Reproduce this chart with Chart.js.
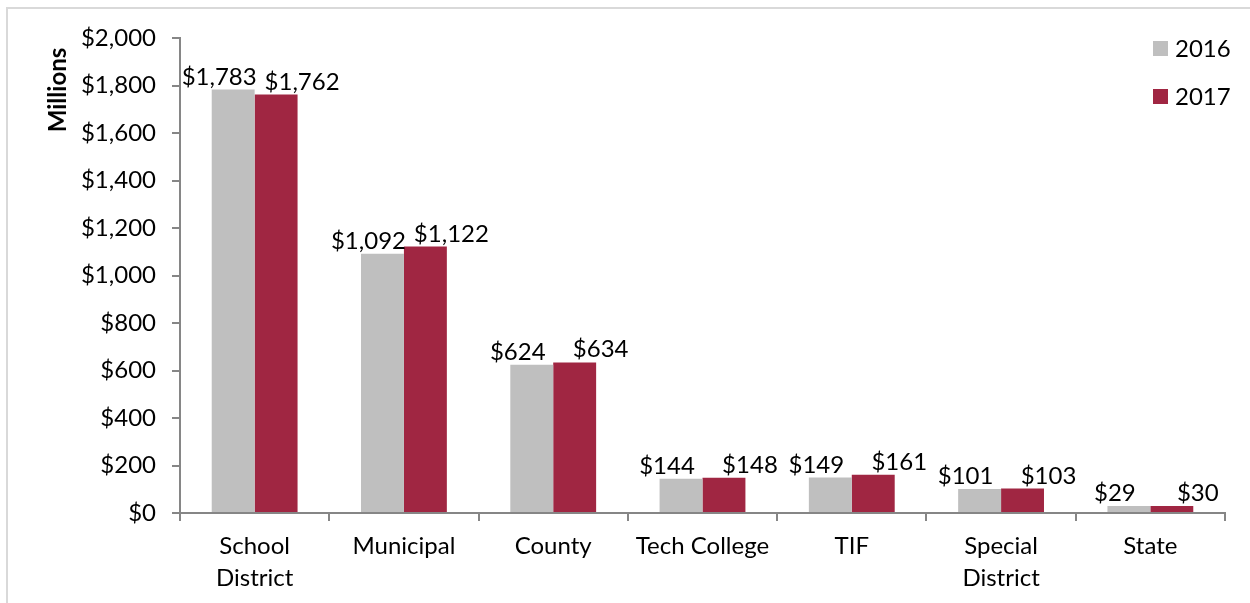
<!DOCTYPE html>
<html lang="en">
<head>
  <meta charset="UTF-8" />
  <title>Tax levy by type</title>
  <script src="https://cdn.jsdelivr.net/npm/chart.js"></script>
  <style>
    html, body { margin: 0; padding: 0; background: #fff; }
    #wrap { width: 1250px; height: 603px; position: relative; }
  </style>
</head>
<body>
  <div id="wrap"><canvas id="grafico"></canvas></div>

  <script>
    const categorias = [['School', 'District'], 'Municipal', 'County', 'Tech College', 'TIF', ['Special', 'District'], 'State'];
    const anios = ['2016', '2017'];
    const valores2016 = [1783, 1092, 624, 144, 149, 101, 29];
    const valores2017 = [1762, 1122, 634, 148, 161, 103, 30];
    const colores = ['#BFBFBF', '#A02642'];
    const tituloEje = 'Millions';

    const fuente = 'Lato, "Open Sans", sans-serif';
    const dinero = v => '$' + Number(v).toLocaleString('en-US');

    // borde gris del cuadro, titulo del eje, etiquetas de datos y leyenda a mano
    const extras = {
      id: 'extras',
      beforeDraw(chart) {
        const ctx = chart.ctx;
        ctx.save();
        ctx.strokeStyle = '#D9D9D9';
        ctx.lineWidth = 2;
        ctx.strokeRect(7, 8, 1400, 800);
        ctx.translate(58, 90);
        ctx.rotate(-Math.PI / 2);
        ctx.font = 'bold 24px ' + fuente;
        ctx.fillStyle = '#000';
        ctx.textAlign = 'center';
        ctx.textBaseline = 'middle';
        ctx.fillText(tituloEje, 0, 0);
        ctx.restore();
      },
      afterDatasetsDraw(chart) {
        const ctx = chart.ctx;
        ctx.save();
        ctx.font = '24px ' + fuente;
        ctx.fillStyle = '#000';
        ctx.textAlign = 'center';
        ctx.textBaseline = 'alphabetic';
        const desplaz = [-14, 26];
        chart.data.datasets.forEach((ds, i) => {
          chart.getDatasetMeta(i).data.forEach((bar, j) => {
            ctx.fillText(dinero(ds.data[j]), bar.x + desplaz[i], bar.y - 5);
          });
        });
        // leyenda
        ctx.textAlign = 'left';
        ctx.textBaseline = 'middle';
        chart.data.datasets.forEach((ds, i) => {
          const y = 48 + i * 48;
          ctx.fillStyle = ds.backgroundColor;
          ctx.fillRect(1153, y - 7, 15, 15);
          ctx.fillStyle = '#000';
          ctx.fillText(ds.label, 1175, y + 1);
        });
        ctx.restore();
      }
    };

    new Chart(document.getElementById('grafico').getContext('2d'), {
      type: 'bar',
      data: {
        labels: categorias,
        datasets: [
          { label: anios[0], data: valores2016, backgroundColor: colores[0] },
          { label: anios[1], data: valores2017, backgroundColor: colores[1] }
        ]
      },
      options: {
        responsive: true,
        maintainAspectRatio: false,
        animation: false,
        layout: { padding: { left: 0, right: 25, top: 38, bottom: 0 } },
        datasets: { bar: { categoryPercentage: 0.575, barPercentage: 1 } },
        plugins: { legend: { display: false }, tooltip: { enabled: false } },
        scales: {
          x: {
            grid: { offset: true, drawOnChartArea: false, tickLength: 8, color: '#868686', lineWidth: 2 },
            border: { color: '#868686', width: 2 },
            ticks: { color: '#000', font: { family: fuente, size: 24, lineHeight: 1.33 }, padding: 9, maxRotation: 0 },
            afterFit(scale) { scale.height = 90; }
          },
          y: {
            min: 0, max: 2000,
            ticks: { stepSize: 200, color: '#000', font: { family: fuente, size: 24 }, padding: 16, callback: v => dinero(v) },
            grid: { drawOnChartArea: false, tickLength: 8, color: '#868686', lineWidth: 2 },
            border: { color: '#868686', width: 2 },
            afterFit(scale) { scale.width = 180; }
          }
        }
      },
      plugins: [extras]
    });
  </script>
</body>
</html>
